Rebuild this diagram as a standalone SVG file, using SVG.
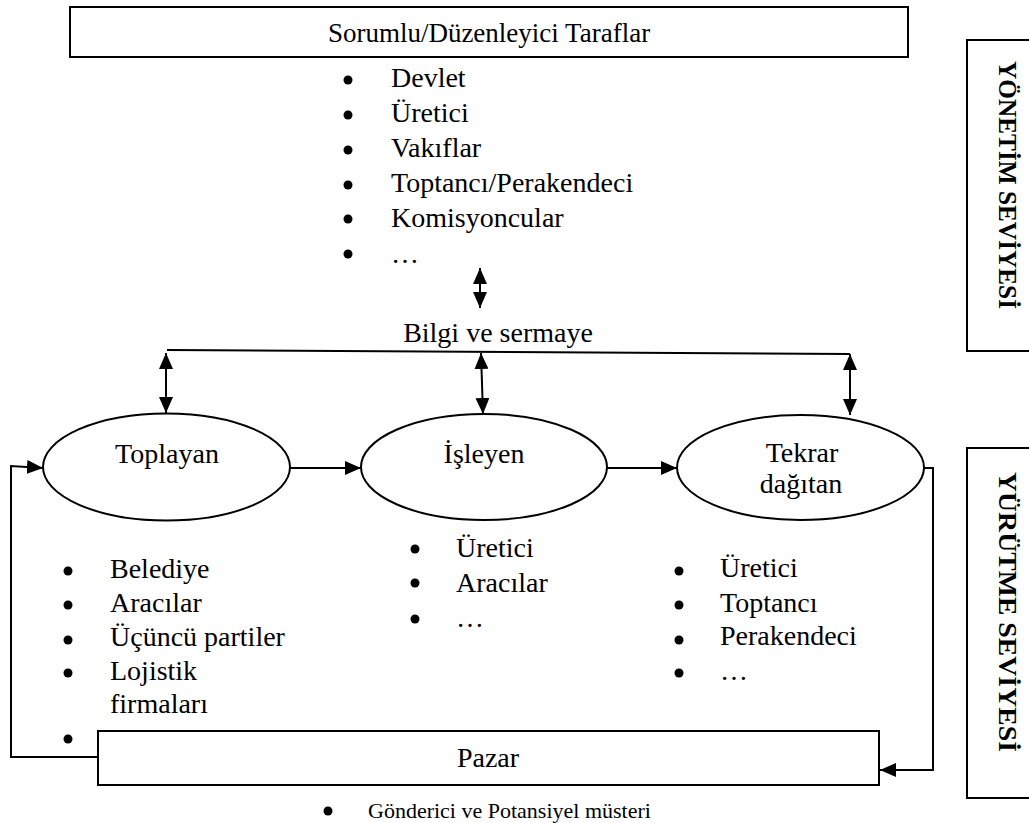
<svg xmlns="http://www.w3.org/2000/svg" width="1029" height="823" viewBox="0 0 1029 823">
  <style>
    .box { fill: #fff; stroke: #000; stroke-width: 2; }
    .node { fill: #fff; stroke: #000; stroke-width: 2; }
    .lbl { font-family: "Liberation Serif", "Times New Roman", serif; font-size: 28px; fill: #000; }
    .title { font-size: 27px; }
    .ctr { text-anchor: middle; }
    .side { font-family: "Liberation Serif", "Times New Roman", serif; font-size: 26px; font-weight: bold; fill: #000; text-anchor: middle; }
    .small { font-family: "Liberation Serif", "Times New Roman", serif; font-size: 22px; fill: #000; }
    .wire { fill: none; stroke: #000; stroke-width: 2; }
    .dot { fill: #000; }
  </style>
  <defs>
    <marker id="arrow" viewBox="0 0 16 14" refX="16" refY="7" markerWidth="16" markerHeight="14" markerUnits="userSpaceOnUse" orient="auto-start-reverse">
      <path d="M0,0 L16,7 L0,14 Z" fill="#000"/>
    </marker>
  </defs>

  <rect width="1029" height="823" fill="#fff"/>

  <!-- responsible / regulating parties -->
  <g id="parties">
    <rect class="box" x="70" y="7" width="838" height="50"/>
    <text class="lbl title ctr" x="489" y="42">Sorumlu/Düzenleyici Taraflar</text>
    <circle class="dot" cx="348" cy="80" r="4.5"/>
    <text class="lbl" x="391" y="87">Devlet</text>
    <circle class="dot" cx="348" cy="115" r="4.5"/>
    <text class="lbl" x="391" y="122">Üretici</text>
    <circle class="dot" cx="348" cy="150" r="4.5"/>
    <text class="lbl" x="391" y="157">Vakıflar</text>
    <circle class="dot" cx="348" cy="185" r="4.5"/>
    <text class="lbl" x="391" y="192">Toptancı/Perakendeci</text>
    <circle class="dot" cx="348" cy="219" r="4.5"/>
    <text class="lbl" x="391" y="227">Komisyoncular</text>
    <circle class="dot" cx="348" cy="254" r="4.5"/>
    <text class="lbl" x="391" y="263">…</text>
  </g>

  <g id="info-label">
    <text class="lbl ctr" x="498" y="342">Bilgi ve sermaye</text>
  </g>

  <!-- level labels -->
  <g id="management-level">
    <rect class="box" x="967" y="40" width="70" height="311"/>
    <text class="side" transform="translate(999,185) rotate(90)" textLength="248" lengthAdjust="spacingAndGlyphs">YÖNETİM SEVİYESİ</text>
  </g>
  <g id="execution-level">
    <rect class="box" x="967" y="448" width="70" height="350"/>
    <text class="side" transform="translate(999,612) rotate(90)" textLength="280" lengthAdjust="spacingAndGlyphs">YÜRÜTME SEVİYESİ</text>
  </g>

  <!-- process nodes -->
  <g id="collector">
    <ellipse class="node" cx="166.5" cy="467" rx="123.5" ry="53.5"/>
    <text class="lbl ctr" x="167" y="463">Toplayan</text>
  </g>
  <g id="processor">
    <ellipse class="node" cx="484" cy="467" rx="123" ry="53"/>
    <text class="lbl ctr" x="484" y="463">İşleyen</text>
  </g>
  <g id="redistributor">
    <ellipse class="node" cx="800.5" cy="467.5" rx="123.5" ry="52.5"/>
    <text class="lbl ctr" x="802" y="462">Tekrar</text>
    <text class="lbl ctr" x="801" y="493">dağıtan</text>
  </g>

  <g id="collector-list">
    <circle class="dot" cx="68" cy="571" r="4.5"/>
    <text class="lbl" x="110" y="578">Belediye</text>
    <circle class="dot" cx="68" cy="605" r="4.5"/>
    <text class="lbl" x="110" y="612">Aracılar</text>
    <circle class="dot" cx="68" cy="640" r="4.5"/>
    <text class="lbl" x="110" y="646">Üçüncü partiler</text>
    <circle class="dot" cx="68" cy="673" r="4.5"/>
    <text class="lbl" x="110" y="680">Lojistik</text>
    <text class="lbl" x="110" y="713">firmaları</text>
    <circle class="dot" cx="68" cy="739" r="4.5"/>
  </g>

  <g id="processor-list">
    <circle class="dot" cx="415" cy="549" r="4.5"/>
    <text class="lbl" x="456" y="557">Üretici</text>
    <circle class="dot" cx="415" cy="583" r="4.5"/>
    <text class="lbl" x="456" y="592">Aracılar</text>
    <circle class="dot" cx="415" cy="619" r="4.5"/>
    <text class="lbl" x="456" y="627">…</text>
  </g>

  <g id="redistributor-list">
    <circle class="dot" cx="679" cy="571" r="4.5"/>
    <text class="lbl" x="720" y="577">Üretici</text>
    <circle class="dot" cx="679" cy="605" r="4.5"/>
    <text class="lbl" x="720" y="612">Toptancı</text>
    <circle class="dot" cx="679" cy="640" r="4.5"/>
    <text class="lbl" x="720" y="645">Perakendeci</text>
    <circle class="dot" cx="679" cy="673" r="4.5"/>
    <text class="lbl" x="720" y="680">…</text>
  </g>

  <!-- market -->
  <g id="market">
    <rect class="box" x="98" y="731" width="781" height="54"/>
    <text class="lbl ctr" x="488" y="767">Pazar</text>
    <circle class="dot" cx="328" cy="811" r="4.5"/>
    <text class="small" x="368" y="818">Gönderici ve Potansiyel müsteri</text>
  </g>

  <!-- connectors -->
  <g id="connectors">
    <line class="wire" x1="480" y1="268" x2="480" y2="308" marker-start="url(#arrow)" marker-end="url(#arrow)"/>
    <line class="wire" x1="167" y1="350" x2="850" y2="354"/>
    <line class="wire" x1="166" y1="353" x2="166" y2="413" marker-start="url(#arrow)" marker-end="url(#arrow)"/>
    <line class="wire" x1="481" y1="353" x2="483" y2="414" marker-start="url(#arrow)" marker-end="url(#arrow)"/>
    <line class="wire" x1="850" y1="354" x2="850" y2="415" marker-start="url(#arrow)" marker-end="url(#arrow)"/>
    <line class="wire" x1="290" y1="468" x2="361" y2="468" marker-end="url(#arrow)"/>
    <line class="wire" x1="607" y1="468" x2="677" y2="468" marker-end="url(#arrow)"/>
    <polyline class="wire" points="924,468 933,468 933,770 880,770" marker-end="url(#arrow)"/>
    <polyline class="wire" points="98,757 11,757 11,466 43,468" marker-end="url(#arrow)"/>
  </g>
</svg>
